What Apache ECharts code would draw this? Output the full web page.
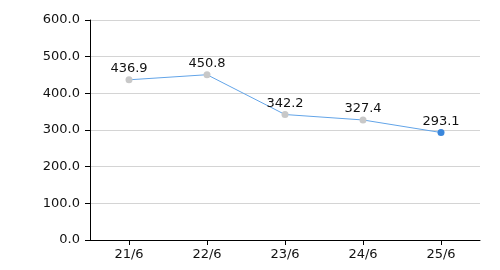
<!DOCTYPE html>
<html><head><meta charset="utf-8">
<script src="https://cdn.jsdelivr.net/npm/echarts@6/dist/echarts.min.js"></script>
<style>html,body{margin:0;padding:0;background:#fff}#c{width:500px;height:270px}</style>
</head><body><div id="c"></div>
<script>
var categories = ['21/6', '22/6', '23/6', '24/6', '25/6'];
var values = [436.9, 450.8, 342.2, 327.4, 293.1];
var yTicks = [0, 100, 200, 300, 400, 500, 600];

var chart = echarts.init(document.getElementById('c'), null, {renderer: 'canvas'});
var font = 'DejaVu Sans, Verdana, sans-serif';
chart.setOption({
  animation: false,
  grid: {left: 90, right: 20, top: 20, bottom: 30},
  xAxis: {
    type: 'category', data: categories, boundaryGap: true,
    axisLine: {lineStyle: {color: '#000', width: 1}},
    axisTick: {show: true, alignWithLabel: true, length: 5, lineStyle: {color: '#000'}},
    axisLabel: {color: '#111', fontFamily: font, fontSize: 13, margin: 8},
    splitLine: {show: false}
  },
  yAxis: {
    type: 'value', min: yTicks[0], max: yTicks[yTicks.length - 1], interval: 100,
    axisLine: {show: true, lineStyle: {color: '#000', width: 1}},
    axisTick: {show: true, length: 5, lineStyle: {color: '#000'}},
    axisLabel: {color: '#111', fontFamily: font, fontSize: 13, margin: 10,
      formatter: function (v) { return v.toFixed(1); }},
    splitLine: {show: true, lineStyle: {color: '#d4d4d4', width: 1}}
  },
  series: [{
    type: 'line', data: values.map(function (v, i) {
      return {value: v, itemStyle: {color: i === values.length - 1 ? '#3a87dc' : '#c8c8c8'}};
    }),
    symbol: 'circle', symbolSize: 7,
    lineStyle: {color: '#62a4e8', width: 1},
    label: {show: true, position: 'top', color: '#111', fontFamily: font, fontSize: 13, distance: 1,
      formatter: function (p) { return p.value.toFixed(1); }}
  }]
});
</script></body></html>
